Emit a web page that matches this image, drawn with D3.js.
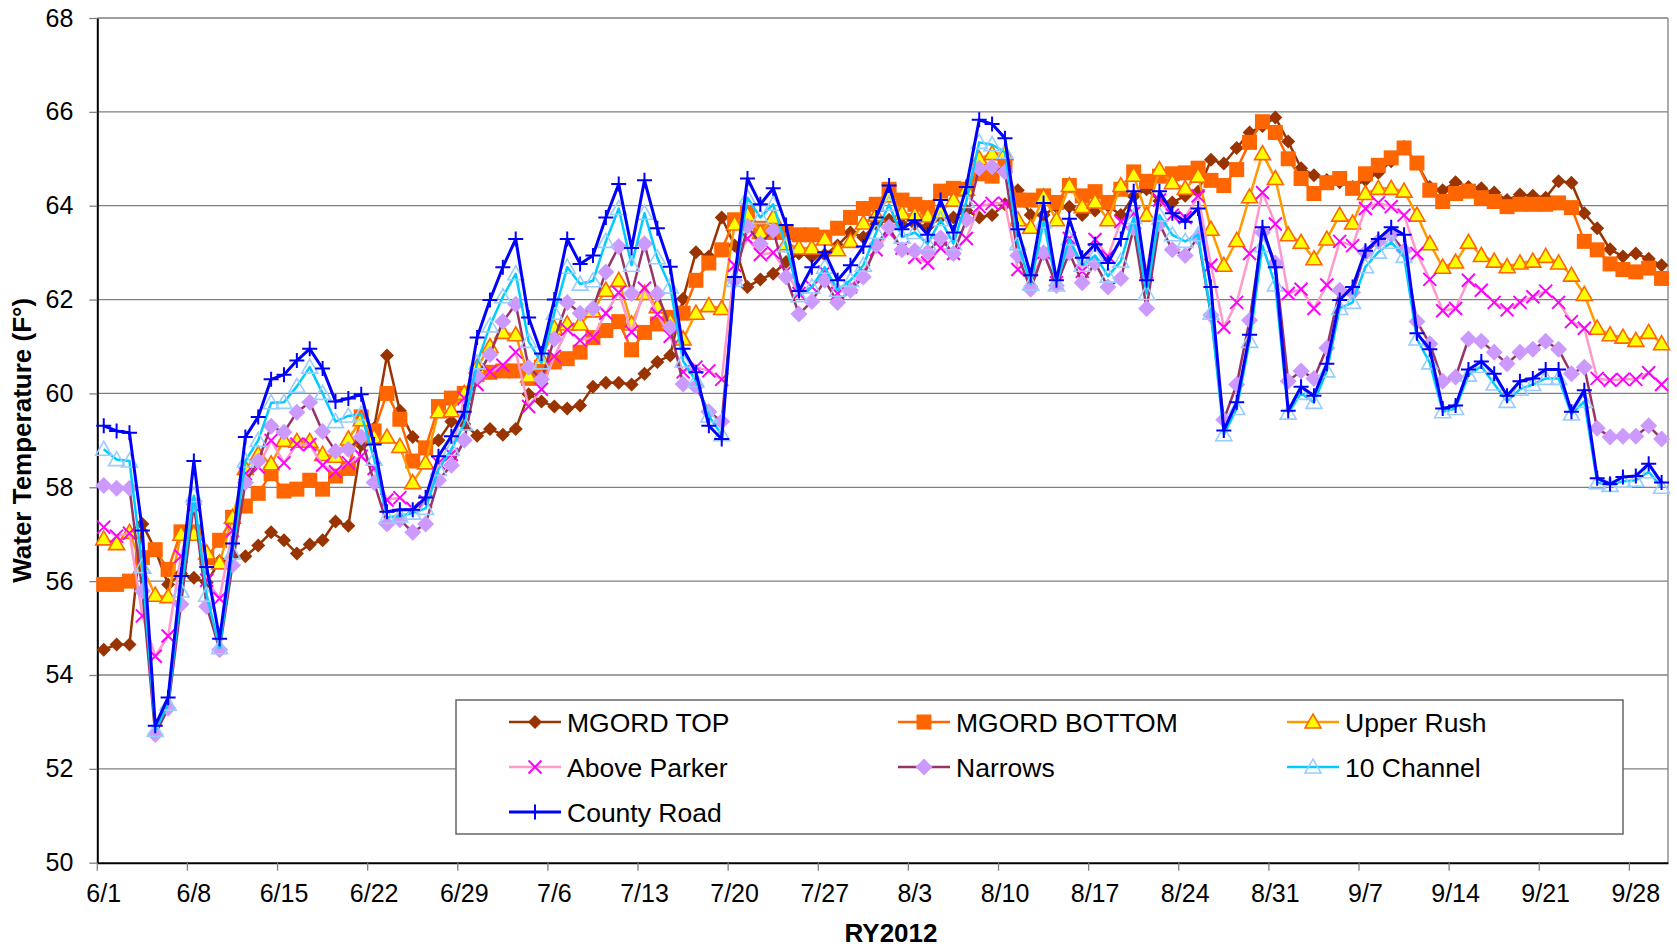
<!DOCTYPE html>
<html>
<head>
<meta charset="utf-8">
<script src="https://cdn.jsdelivr.net/npm/d3@7"></script>
<style>
  body { margin: 0; background: #fff; }
  svg { display: block; font-family: "Liberation Sans", Arial, sans-serif; }
</style>
</head>
<body>
<svg id="chart" width="1677" height="948"></svg>
<script>
// categories: every day of RY2012 from 6/1 to 9/30
let dates = d3.timeDay.range(new Date(2012, 5, 1), new Date(2012, 9, 1))
let tickLabels = ['6/1','6/8','6/15','6/22','6/29','7/6','7/13','7/20','7/27','8/3','8/10','8/17','8/24','8/31','9/7','9/14','9/21','9/28']
let yTicks = [50, 52, 54, 56, 58, 60, 62, 64, 66, 68]

// water temperature (F) per day
let mgordTop = [54.54,54.65,54.65,57.22,56.67,55.93,56.16,56.07,55.97,56.43,56.53,56.53,56.76,57.04,56.87,56.59,56.78,56.87,57.27,57.18,
  58.9,59.26,60.81,59.63,59.07,58.84,59.0,59.4,59.35,59.1,59.24,59.12,59.24,59.98,59.83,59.72,59.68,59.74,60.14,60.23,
  60.23,60.19,60.42,60.67,60.81,62.02,63.01,62.92,63.75,63.15,62.27,62.43,62.55,62.8,62.98,62.92,62.96,63.15,63.43,63.33,
  63.61,63.7,63.6,63.61,63.55,63.75,63.75,63.9,63.75,63.8,64.03,64.33,63.8,63.8,63.98,63.98,63.8,63.9,64.0,63.8,
  64.2,64.35,64.1,64.07,64.21,64.3,64.98,64.9,65.23,65.56,65.7,65.88,65.37,64.8,64.65,64.55,64.5,64.4,64.55,64.7,
  64.95,65.25,64.9,64.4,64.33,64.5,64.4,64.37,64.28,64.12,64.24,64.21,64.17,64.52,64.49,63.84,63.52,63.07,62.92,62.98,
  62.87,62.73]
let mgordBottom = [55.93,55.93,56.0,56.5,56.67,56.25,57.05,57.05,56.5,56.87,57.36,57.6,57.87,58.29,57.92,57.96,58.15,57.96,58.24,58.4,
  59.5,59.2,60.0,59.45,58.56,58.84,59.72,59.9,60.0,60.4,60.45,60.48,60.48,60.32,60.56,60.67,60.74,60.88,61.19,61.34,
  61.53,60.93,61.3,61.48,61.62,61.71,62.41,62.78,63.06,63.7,63.84,63.52,63.43,63.43,63.38,63.38,63.33,63.52,63.75,63.94,
  64.03,64.35,64.12,64.03,63.96,64.31,64.37,64.35,64.68,64.63,64.86,64.12,64.12,64.21,64.07,64.43,64.21,64.3,64.07,64.35,
  64.72,64.52,64.63,64.68,64.7,64.8,64.54,64.43,64.77,65.35,65.79,65.56,65.0,64.58,64.26,64.49,64.58,64.37,64.68,64.86,
  65.02,65.23,64.91,64.33,64.09,64.26,64.31,64.17,64.09,63.98,64.03,64.03,64.03,64.06,63.96,63.24,63.06,62.76,62.64,62.59,
  62.67,62.45]
let upperRush = [56.9,56.8,57.04,56.3,55.7,55.67,57.0,57.0,56.6,56.39,57.36,58.4,58.7,58.5,59.0,58.98,58.98,58.7,58.66,59.03,
  59.44,59.07,59.07,58.87,58.1,58.52,59.61,59.63,60.0,60.56,61.0,61.3,61.25,60.37,60.74,61.39,61.48,61.48,61.76,62.2,
  62.41,61.48,62.13,61.85,61.53,61.16,61.71,61.87,61.81,63.61,63.8,63.43,63.75,63.19,63.1,63.1,63.29,63.06,63.24,63.63,
  63.8,64.21,63.84,63.8,63.78,63.87,64.12,64.35,65.0,65.11,65.11,63.7,63.54,64.19,63.7,64.43,63.98,64.08,63.7,64.43,
  64.65,63.8,64.77,64.49,64.37,64.63,63.5,62.73,63.26,64.19,65.11,64.58,63.38,63.22,62.87,63.29,63.8,63.63,64.26,64.37,
  64.37,64.31,63.8,63.19,62.69,62.8,63.22,62.94,62.82,62.7,62.78,62.82,62.92,62.78,62.52,62.11,61.39,61.25,61.2,61.13,
  61.3,61.06]
let aboveParker = [57.15,56.96,57.02,55.26,54.4,54.83,56.53,57.6,56.02,55.63,57.08,58.29,58.43,59.0,58.52,58.92,58.91,58.47,58.33,58.52,
  58.66,58.4,57.73,57.78,57.55,57.7,58.52,58.7,59.9,60.19,60.46,60.6,60.88,59.72,60.09,60.79,61.36,61.13,61.2,61.71,
  62.15,61.31,62.24,61.69,61.22,60.46,60.56,60.48,60.3,62.73,63.3,62.96,63.0,62.6,62.13,62.27,62.59,62.13,62.27,62.6,
  63.06,63.43,63.1,62.9,62.78,63.1,62.98,63.3,63.98,64.05,64.05,62.64,62.4,63.0,62.36,63.3,62.6,63.28,62.92,63.66,
  63.84,62.59,64.12,63.8,63.75,64.21,62.73,61.41,61.94,62.98,64.28,63.61,62.13,62.22,61.81,62.31,63.24,63.15,63.94,64.06,
  63.98,63.8,62.98,62.43,61.76,61.81,62.41,62.2,61.94,61.78,61.94,62.06,62.18,61.94,61.53,61.39,60.32,60.28,60.3,60.3,
  60.44,60.19]
let narrows = [58.04,57.98,57.98,55.79,52.73,53.29,55.51,57.64,55.46,54.54,56.34,58.1,58.56,59.3,59.17,59.6,59.81,59.19,58.77,58.81,
  59.07,58.1,57.22,57.31,57.04,57.22,58.15,58.47,59.0,60.37,60.83,61.53,61.9,60.56,60.3,61.16,61.94,61.71,61.81,62.59,
  63.13,62.13,63.19,62.13,61.41,60.2,60.15,59.61,59.4,62.41,63.56,63.19,63.47,62.48,61.69,61.96,62.41,61.94,62.2,62.48,
  63.15,63.54,63.06,63.04,63.01,63.31,62.98,63.7,64.8,64.83,64.72,62.94,62.22,63.0,62.3,63.0,62.36,62.78,62.27,62.45,
  63.52,61.81,63.61,63.06,62.94,63.33,61.67,59.44,60.19,61.56,63.43,62.78,60.26,60.48,60.32,60.97,62.2,62.15,63.0,63.24,
  63.38,63.04,61.53,61.06,60.26,60.35,61.16,61.11,60.88,60.63,60.88,60.94,61.11,60.94,60.42,60.56,59.26,59.07,59.09,59.09,
  59.31,59.03]
let tenChannel = [58.81,58.59,58.56,56.31,52.82,53.38,55.79,57.82,55.7,54.58,56.6,58.56,59.0,59.8,59.81,60.15,60.56,60.0,59.4,59.52,
  59.56,58.6,57.36,57.39,57.45,57.55,58.38,58.81,59.35,60.65,61.44,62.06,62.55,61.11,60.65,61.71,62.69,62.33,62.4,63.24,
  63.94,62.73,63.84,62.89,62.27,60.69,60.27,59.52,59.12,62.41,64.17,63.75,64.03,63.15,62.08,62.27,62.69,62.2,62.41,62.73,
  63.43,64.03,63.33,63.43,63.19,63.7,63.19,64.09,65.35,65.3,65.14,63.19,62.33,63.66,62.31,63.29,62.73,62.94,62.5,62.82,
  63.75,62.13,63.8,63.38,63.24,63.38,61.71,59.12,59.68,61.11,63.15,62.31,59.58,60.0,59.81,60.48,61.81,61.94,62.7,63.01,
  63.22,62.92,61.16,60.65,59.61,59.68,60.39,60.58,60.2,59.83,60.09,60.19,60.32,60.32,59.56,59.83,58.1,58.04,58.13,58.15,
  58.33,58.0]
let countyRoad = [59.31,59.2,59.16,57.08,52.92,53.52,56.11,58.56,56.3,54.77,56.8,59.07,59.5,60.3,60.4,60.7,60.95,60.53,59.83,59.89,
  59.98,58.91,57.48,57.52,57.52,57.78,58.66,59.09,59.61,61.19,61.99,62.69,63.29,61.62,60.85,62.0,63.29,62.76,62.94,63.75,
  64.46,63.1,64.54,63.52,62.7,60.95,60.45,59.31,59.03,62.48,64.58,64.03,64.37,63.59,62.18,62.69,63.01,62.41,62.73,63.13,
  63.75,64.43,63.5,63.69,63.38,64.12,63.43,64.4,65.83,65.74,65.44,63.5,62.52,64.06,62.41,63.72,62.89,63.18,62.78,63.29,
  64.31,62.41,64.31,63.84,63.66,63.94,62.27,59.21,59.81,61.25,63.54,62.69,59.63,60.14,59.95,60.63,61.99,62.27,63.04,63.29,
  63.54,63.38,61.28,60.94,59.68,59.74,60.51,60.68,60.42,59.95,60.26,60.32,60.51,60.51,59.61,60.07,58.19,58.07,58.22,58.24,
  58.5,58.1]

let series = [
  { name: 'MGORD TOP', values: mgordTop, line: '#993300', width: 2.5, marker: 'diamond', size: 7, fill: '#993300', stroke: 'none' },
  { name: 'MGORD BOTTOM', values: mgordBottom, line: '#FF6600', width: 2.5, marker: 'square', size: 7.5, fill: '#FF6600', stroke: 'none' },
  { name: 'Upper Rush', values: upperRush, line: '#FF9900', width: 2.5, marker: 'triangle', size: 8, fill: '#FFFF00', stroke: '#FF6600' },
  { name: 'Above Parker', values: aboveParker, line: '#FF99CC', width: 2.5, marker: 'x', size: 6.5, fill: 'none', stroke: '#FF00FF' },
  { name: 'Narrows', values: narrows, line: '#993366', width: 2.5, marker: 'diamond', size: 8.5, fill: '#CC99FF', stroke: 'none' },
  { name: '10 Channel', values: tenChannel, line: '#00CCFF', width: 2.5, marker: 'triangle', size: 8, fill: 'none', stroke: '#99CCFF' },
  { name: 'County Road', values: countyRoad, line: '#0000FF', width: 3, marker: 'plus', size: 7.5, fill: 'none', stroke: '#0000FF' }
]

let svg = d3.select('#chart')
let plotLeft = 97.3, plotRight = 1668, plotTop = 18, plotBottom = 862.7

let x = d3.scaleBand().domain(d3.range(dates.length)).range([plotLeft, plotRight])
let bw = x.bandwidth()
let cx = i => x(i) + bw / 2
let y = d3.scaleLinear().domain([50, 68]).range([plotBottom, plotTop])

// marker shapes
let markerPath = (type, r) => {
  if (type == 'diamond') return `M0,${-r}L${r},0L0,${r}L${-r},0Z`
  if (type == 'square') return `M${-r},${-r}H${r}V${r}H${-r}Z`
  if (type == 'triangle') return `M0,${-r}L${r},${r * 0.75}L${-r},${r * 0.75}Z`
  if (type == 'x') return `M${-r},${-r}L${r},${r}M${-r},${r}L${r},${-r}`
  return `M${-r},0H${r}M0,${-r}V${r}`
}
let drawMarker = (g, s) => {
  g.append('path')
    .attr('d', markerPath(s.marker, s.size))
    .attr('fill', s.fill)
    .attr('stroke', s.stroke)
    .attr('stroke-width', s.marker == 'x' || s.marker == 'plus' ? 2 : 1.6)
}

// gridlines
svg.append('g').selectAll('line')
  .data(yTicks.slice(1))
  .enter().append('line')
  .attr('x1', plotLeft).attr('x2', plotRight)
  .attr('y1', d => y(d)).attr('y2', d => y(d))
  .attr('stroke', '#808080').attr('stroke-width', 1.3)
svg.append('line')
  .attr('x1', plotRight).attr('x2', plotRight).attr('y1', plotTop).attr('y2', plotBottom)
  .attr('stroke', '#808080').attr('stroke-width', 1.3)

// axes
let yAxis = svg.append('g')
  .attr('transform', `translate(${plotLeft},0)`)
  .call(d3.axisLeft(y).tickValues(yTicks).tickSize(8).tickPadding(16).tickSizeOuter(0))
yAxis.selectAll('text').attr('font-size', 25).attr('fill', '#000').attr('font-family', '"Liberation Sans", Arial, sans-serif')
yAxis.selectAll('line').attr('stroke', '#808080').attr('stroke-width', 1.3)
yAxis.select('.domain').attr('stroke', '#000').attr('stroke-width', 2)

let xAxis = svg.append('g')
  .attr('transform', `translate(0,${plotBottom})`)
  .call(d3.axisBottom(x)
    .tickValues(d3.range(0, dates.length, 7))
    .tickFormat((d, i) => tickLabels[i])
    .tickSize(8).tickPadding(14).tickSizeOuter(0))
xAxis.selectAll('text').attr('font-size', 25).attr('fill', '#000').attr('font-family', '"Liberation Sans", Arial, sans-serif')
xAxis.selectAll('.tick line')
  .attr('transform', `translate(${-bw / 2},0)`)
  .attr('stroke', '#808080').attr('stroke-width', 1.3)
xAxis.select('.domain').attr('stroke', '#000').attr('stroke-width', 2)

// series lines and markers
let line = d3.line().x((d, i) => cx(i)).y(d => y(d))
series.forEach(s => {
  let g = svg.append('g')
  g.append('path')
    .attr('d', line(s.values))
    .attr('fill', 'none')
    .attr('stroke', s.line)
    .attr('stroke-width', s.width)
    .attr('stroke-linejoin', 'round')
  g.selectAll('g')
    .data(s.values)
    .enter().append('g')
    .attr('transform', (d, i) => `translate(${cx(i)},${y(d)})`)
    .each(function () { drawMarker(d3.select(this), s) })
})

// axis titles
svg.append('text')
  .attr('transform', `translate(31,${(plotTop + plotBottom) / 2}) rotate(-90)`)
  .attr('text-anchor', 'middle')
  .attr('font-size', 26).attr('font-weight', 'bold')
  .text('Water Temperature (F°)')
svg.append('text')
  .attr('x', 891).attr('y', 942)
  .attr('text-anchor', 'middle')
  .attr('font-size', 26).attr('font-weight', 'bold')
  .text('RY2012')

// legend
let legend = svg.append('g')
legend.append('rect')
  .attr('x', 456).attr('y', 700).attr('width', 1167).attr('height', 134)
  .attr('fill', '#fff').attr('stroke', '#666').attr('stroke-width', 1.5)
let colX = [509, 898, 1287]
let rowY = [722, 767, 812]
series.forEach((s, i) => {
  let lx = colX[i % 3], ly = rowY[Math.floor(i / 3)]
  let item = legend.append('g').attr('transform', `translate(${lx},${ly})`)
  item.append('line')
    .attr('x1', 0).attr('x2', 52)
    .attr('stroke', s.line).attr('stroke-width', s.width)
  drawMarker(item.append('g').attr('transform', 'translate(26,0)'), s)
  item.append('text')
    .attr('x', 58).attr('dy', '0.36em')
    .attr('font-size', 26.5)
    .text(s.name)
})
</script>
</body>
</html>
